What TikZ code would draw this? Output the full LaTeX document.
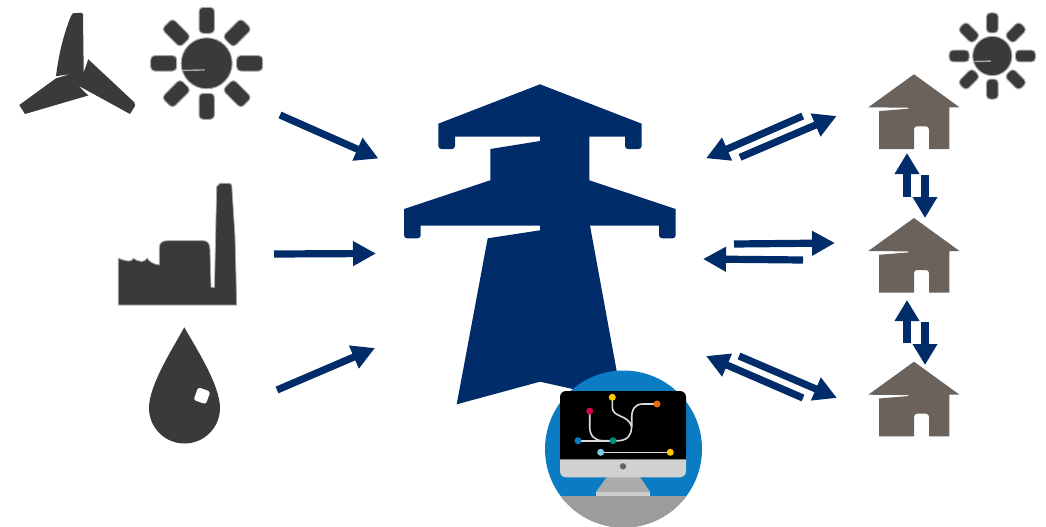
\documentclass[tikz,border=0pt]{standalone}
\usetikzlibrary{arrows.meta}
\definecolor{navy}{HTML}{002D6A}
\definecolor{icon}{HTML}{3A3A3A}
\definecolor{halo}{HTML}{A8A8A8}
\definecolor{brownhouse}{HTML}{6B625B}
\definecolor{circblue}{HTML}{0A7CC4}
\definecolor{wire}{HTML}{DCDCDC}
\definecolor{dotblue}{HTML}{0A7CC4}
\definecolor{dotgreen}{HTML}{008C7A}
\definecolor{dotred}{HTML}{D5004F}
\definecolor{dotyellow}{HTML}{FFC800}
\definecolor{dotorange}{HTML}{E86A10}
\definecolor{dotlight}{HTML}{7CC6E8}
\tikzset{
  flow/.style={draw=navy,line width=7.2pt,-{Triangle[length=23pt,width=23.5pt]}},
  flowthick/.style={draw=navy,line width=8.5pt,-{Triangle[length=21pt,width=23.5pt]}},
  icondark/.style={fill=icon,draw=none},
  halofill/.style={fill=icon,draw=halo,line width=1pt},
  netdot/.style={circle,inner sep=0pt,minimum size=7pt,draw=none},
  netline/.style={draw=wire,line width=1.6pt},
  sun/.pic={
    \foreach \a in {0,45,...,315}{
      \begin{scope}[rotate=\a]
        \draw[halofill,rounded corners=4pt] (30,-7.7) rectangle (56,7.7);
      \end{scope}
    }
    \draw[halofill] (0,0) circle (25.5);
    \draw[halo,line width=1.4pt] (-25,7.2) -- (-2,6.6);
  },
  house/.pic={
    \fill[brownhouse] (0,0) -- (45.5,33) -- (35.3,33) -- (35.3,74.7) -- (15,74.7)
      -- (15,56) [rounded corners=3pt] -- (15,52) -- (0,52) [rounded corners=0pt] -- (0,74.7) -- (-35,74.7)
      -- (-35,36.8) -- (-5.7,34.4) -- (-5.7,33.4) -- (-45.7,33) -- cycle;
  }
}
\begin{document}
\begin{tikzpicture}[x=1pt,y=-1pt]
\useasboundingbox (0,0) rectangle (1046,527);
% turbine
\fill[icondark] (73,13.3) -- (81,12.7) -- (83,14) -- (83.7,72.5) -- (88.3,59.3) -- (134.5,102.5) -- (135,106) -- (130,114)
  -- (78,85.5) -- (88.3,95.5) -- (25,114) -- (19.3,105) -- (56,78.3) -- (70.7,74) -- (56,76.2)
  .. controls (58,60) and (62,38) .. (71,16) -- cycle;
% suns
\pic at (206.7,63.3) {sun};
\pic[scale=0.77,transform shape] at (992.3,56) {sun};
% factory
\filldraw[icon,draw=halo,line width=0.8pt] (118.3,305) -- (236.7,305) -- (235,236.7) -- (231.7,185) -- (229.5,183.3) -- (220,183.3)
  -- (216.7,186.7) -- (214.5,287.3) -- (211,287.3) -- (210,250) .. controls (210,244) and (208,240.7) .. (203.3,240.7)
  -- (168,240.7) .. controls (162,240.7) and (159.3,243) .. (159.3,248) -- (159.3,265)
  .. controls (153,264) and (150,262) .. (147,258.3) .. controls (145,262) and (140,263) .. (133.5,258.3)
  .. controls (131,263) and (126,261) .. (118.3,258.3) -- cycle;
% drop
\fill[icondark] (184.3,327.3) .. controls (196,348) and (220,385) .. (220,408)
  arc[start angle=0,end angle=180,radius=35.5] .. controls (149,385) and (173,348) .. (184.3,327.3) -- cycle;
\fill[white,rounded corners=2.5pt,rotate around={-20:(202,395.7)}] (195.5,389) rectangle (208.5,402.5);
% tower
\fill[navy] (540,84.3) -- (641.7,123.7) [rounded corners=3pt] -- (641.7,149) -- (625,149) [rounded corners=0pt] -- (625,136.7)
  -- (589.3,136.7) -- (589.3,180.3) -- (675.7,209) [rounded corners=3pt] -- (675.7,238.3) -- (659,238.3) [rounded corners=0pt] -- (659,225.7)
  -- (590,225.7) -- (622,400) -- (540,381.7) -- (456.7,404.3) -- (487.7,238.3) -- (540,230.3) -- (540,225.7)
  -- (420.7,225.7) [rounded corners=3pt] -- (420.7,238.3) -- (404,238.3) [rounded corners=0pt] -- (404,209) -- (490.3,180.3) -- (490.3,149)
  -- (540,141) -- (540,136.7) -- (455,136.7) [rounded corners=3pt] -- (455,149) -- (438.3,149) [rounded corners=0pt] -- (438.3,123.7) -- cycle;
% control badge
\begin{scope}
  \clip (623.5,449) circle (78.5);
  \fill[circblue] (540,365) rectangle (710,530);
  \fill[black!39] (540,496) rectangle (710,530);
  \fill[black!33] (606.7,477) -- (640,477) -- (650,492) -- (596,492) -- cycle;
  \fill[black!20] (596,491.7) rectangle (650,496);
\end{scope}
\fill[black!18,rounded corners=6pt] (560,450) rectangle (686,477.3);
\fill[black] (560,459.3) [rounded corners=6pt] -- (560,391) -- (686,391) [rounded corners=0pt] -- (686,459.3) -- cycle;
\fill[black!60] (623,466.3) circle (3.2);
\coordinate (jb) at (613,440.7);
\draw[netline] (578,440.7) -- (jb);
\draw[netline] (jb) -- (618,440.7) .. controls (628,440.7) and (631.7,434) .. (631.7,426.7) -- (631.7,418)
  .. controls (631.7,409) and (635,404) .. (643,404) -- (657,404);
\draw[netline] (589.7,411) -- (589.7,427) .. controls (589.7,436) and (595,440.7) .. (603,440.7) -- (jb);
\draw[netline] (612.3,397.3) -- (612.3,407) .. controls (612.3,418) and (628,414) .. (631.7,426.7);
\draw[netline] (600.7,452.3) -- (670.3,452.3);
\node[netdot,fill=dotblue] (nb) at (578,440.7) {};
\node[netdot,fill=dotgreen] (ng) at (613,440.7) {};
\node[netdot,fill=dotred] (nm) at (589.7,411) {};
\node[netdot,fill=dotyellow] (ny) at (612.3,397.3) {};
\node[netdot,fill=dotorange] (no) at (657,404) {};
\node[netdot,fill=dotlight] (nl) at (600.7,452.3) {};
\node[netdot,fill=dotyellow] (nz) at (670.3,452.3) {};
% houses
\pic at (914,74.3) {house};
\pic at (914,218) {house};
\pic at (914,361.7) {house};
% connector ends
\coordinate (a1s) at (280,115); \coordinate (a1e) at (378.5,158.5);
\coordinate (a2s) at (274,254); \coordinate (a2e) at (376,253.5);
\coordinate (a3s) at (277,390); \coordinate (a3e) at (375,348);
\coordinate (b1s) at (740,157.3); \coordinate (b1e) at (836.7,116);
\coordinate (b2s) at (802.7,116); \coordinate (b2e) at (706,158.3);
\coordinate (c1s) at (734,244); \coordinate (c1e) at (835,243);
\coordinate (c2s) at (803,260); \coordinate (c2e) at (703,259);
\coordinate (d1s) at (739,356); \coordinate (d1e) at (837,398);
\coordinate (d2s) at (803,398); \coordinate (d2e) at (706,356);
\coordinate (e1s) at (907,197); \coordinate (e1e) at (907,153);
\coordinate (e2s) at (925,175); \coordinate (e2e) at (925,218);
\coordinate (f1s) at (907,343); \coordinate (f1e) at (907,300);
\coordinate (f2s) at (925,322); \coordinate (f2e) at (925,365);
\foreach \s/\e in {a1s/a1e,a2s/a2e,a3s/a3e,b1s/b1e,b2s/b2e,c1s/c1e,c2s/c2e,d1s/d1e,d2s/d2e}
  \draw[flow] (\s) -- (\e);
\foreach \s/\e in {e1s/e1e,e2s/e2e,f1s/f1e,f2s/f2e}
  \draw[flowthick] (\s) -- (\e);
\end{tikzpicture}
\end{document}
